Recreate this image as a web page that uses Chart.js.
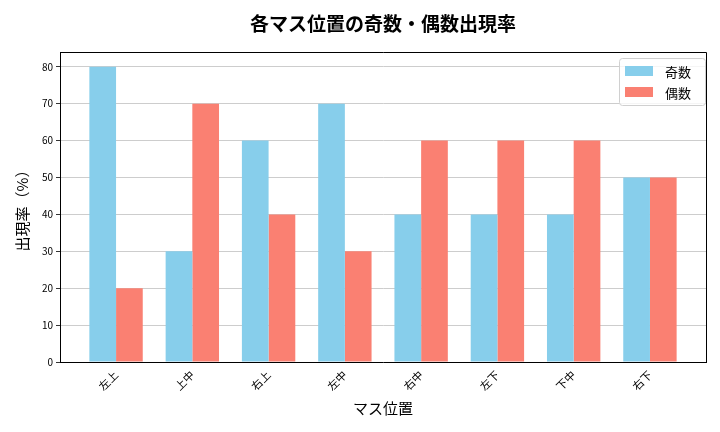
<!DOCTYPE html>
<html>
<head>
<meta charset="utf-8">
<script src="https://cdn.jsdelivr.net/npm/chart.js@4/dist/chart.umd.min.js"></script>
<style>
  html, body { margin: 0; padding: 0; background: #fff; }
  #wrap { width: 720px; height: 432px; }
</style>
</head>
<body>
<div id="wrap"><canvas id="c" width="720" height="432"></canvas></div>
<script>
const positions = ['左上', '上中', '右上', '左中', '右中', '左下', '下中', '右下'];
const oddRate = [80, 30, 60, 70, 40, 40, 40, 50];
const evenRate = [20, 70, 40, 30, 60, 60, 60, 50];
const yTicks = [0, 10, 20, 30, 40, 50, 60, 70, 80];

const FONT = "'Noto Sans CJK JP', 'Noto Sans', sans-serif";

// title, frame and legend drawn by hand so they sit where matplotlib put them
const extras = {
  id: 'extras',
  afterDraw(chart) {
    const ctx = chart.ctx;
    const area = chart.chartArea;
    ctx.save();
    // top + right spines
    ctx.strokeStyle = '#000';
    ctx.lineWidth = 1;
    ctx.beginPath();
    ctx.moveTo(area.left, area.top + 0.5);
    ctx.lineTo(area.right + 0.5, area.top + 0.5);
    ctx.lineTo(area.right + 0.5, area.bottom);
    ctx.stroke();

    ctx.fillStyle = '#000';
    ctx.font = 'bold 19px ' + FONT;
    ctx.textAlign = 'center';
    ctx.textBaseline = 'middle';
    ctx.fillText('各マス位置の奇数・偶数出現率', (area.left + area.right) / 2, 24);

    // legend box
    const bx = 619, by = 58, bw = 86, bh = 47;
    ctx.fillStyle = 'rgba(255,255,255,0.8)';
    ctx.strokeStyle = '#d0d0d0';
    ctx.beginPath();
    ctx.roundRect(bx + 0.5, by + 0.5, bw, bh, 3);
    ctx.fill();
    ctx.stroke();
    ctx.font = '13px ' + FONT;
    ctx.textAlign = 'left';
    chart.data.datasets.forEach((ds, i) => {
      const y = by + 13 + i * 21;
      ctx.fillStyle = ds.backgroundColor;
      ctx.fillRect(bx + 6, y - 5, 28, 10);
      ctx.fillStyle = '#000';
      ctx.fillText(ds.label, bx + 46, y + 1);
    });
    ctx.restore();
  }
};

new Chart(document.getElementById('c'), {
  type: 'bar',
  data: {
    datasets: [{
      label: '奇数',
      data: oddRate.map((v, i) => ({ x: i, y: v })),
      backgroundColor: '#87CEEB'
    }, {
      label: '偶数',
      data: evenRate.map((v, i) => ({ x: i, y: v })),
      backgroundColor: '#FA8072'
    }]
  },
  options: {
    responsive: false,
    animation: false,
    devicePixelRatio: 1,
    layout: { padding: { top: 52, right: 14, left: 0, bottom: 0 } },
    datasets: { bar: { barPercentage: 1, categoryPercentage: 0.7 } },
    plugins: {
      legend: { display: false },
      title: { display: false },
      tooltip: { enabled: false }
    },
    scales: {
      x: {
        type: 'linear',
        min: -0.735,
        max: 7.735,
        offset: false,
        afterBuildTicks(scale) {
          scale.ticks = positions.map((p, i) => ({ value: i }));
        },
        afterFit(scale) { scale.height = 70; },
        ticks: {
          callback: (v) => positions[v],
          minRotation: 45,
          maxRotation: 45,
          color: '#000',
          font: { size: 11, family: FONT },
          padding: 2
        },
        grid: { display: false, drawTicks: true, tickLength: 4, tickColor: '#000' },
        border: { color: '#000', width: 1 },
        title: {
          display: true,
          text: 'マス位置',
          color: '#000',
          font: { size: 15, family: FONT },
          padding: { top: 2, bottom: 15 }
        }
      },
      y: {
        min: 0,
        max: 84,
        afterBuildTicks(scale) {
          scale.ticks = yTicks.map(v => ({ value: v }));
        },
        afterFit(scale) { scale.width = 60; },
        ticks: {
          color: '#000',
          font: { size: 10, family: FONT },
          padding: 3
        },
        grid: {
          color: '#c0c0c0',
          lineWidth: 0.8,
          tickLength: 4,
          tickColor: '#000'
        },
        border: { color: '#000', width: 1 },
        title: {
          display: true,
          text: '出現率（%）',
          color: '#000',
          font: { size: 15, family: FONT },
          padding: { top: 13, bottom: 4 }
        }
      }
    }
  },
  plugins: [extras]
});
</script>
</body>
</html>
